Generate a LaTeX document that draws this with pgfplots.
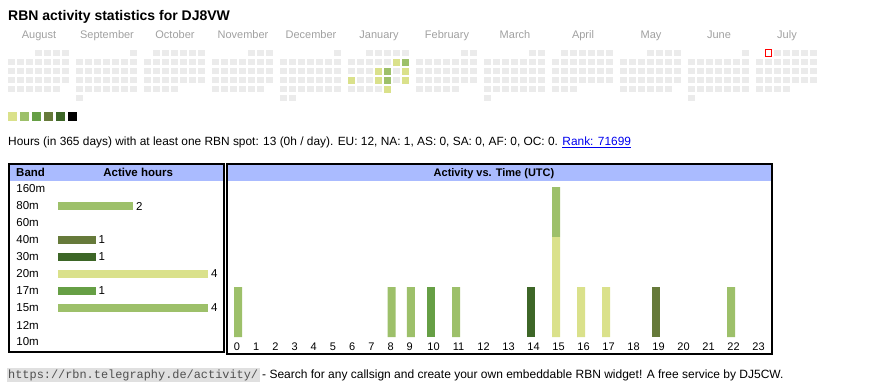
\documentclass[border=0pt]{standalone}
\usepackage{pgfplots}
\pgfplotsset{compat=1.18}
\usepackage{pgfplotstable}
\usepackage{fontspec}
\setmainfont{Liberation Sans}
\setmonofont{Liberation Mono}
\definecolor{lv1}{RGB}{218,225,139}
\definecolor{lv2}{RGB}{157,192,106}
\definecolor{lv3}{RGB}{102,159,69}
\definecolor{lv4}{RGB}{102,122,58}
\definecolor{lv5}{RGB}{61,102,39}
\definecolor{cell}{RGB}{235,235,235}
\definecolor{hdr}{RGB}{170,187,255}
\definecolor{mgray}{RGB}{160,160,160}
\definecolor{link}{RGB}{0,0,238}
\definecolor{urlbg}{RGB}{224,224,224}
\definecolor{urltxt}{RGB}{80,80,80}

% calendar: month (0 = Aug 2024 ... 11 = Jul 2025), week row, first and last weekday column (Mon = 1)
\pgfplotstableread{
m r a b
0 1 4 7
0 2 1 7
0 3 1 7
0 4 1 7
0 5 1 6
1 1 7 7
1 2 1 7
1 3 1 7
1 4 1 7
1 5 1 7
1 6 1 1
2 1 2 7
2 2 1 7
2 3 1 7
2 4 1 7
2 5 1 4
3 1 5 7
3 2 1 7
3 3 1 7
3 4 1 7
3 5 1 6
4 1 7 7
4 2 1 7
4 3 1 7
4 4 1 7
4 5 1 7
4 6 1 2
5 1 3 7
5 2 1 7
5 3 1 7
5 4 1 7
5 5 1 5
6 1 6 7
6 2 1 7
6 3 1 7
6 4 1 7
6 5 1 5
7 1 6 7
7 2 1 7
7 3 1 7
7 4 1 7
7 5 1 7
7 6 1 1
8 1 2 7
8 2 1 7
8 3 1 7
8 4 1 7
8 5 1 3
9 1 4 7
9 2 1 7
9 3 1 7
9 4 1 7
9 5 1 6
10 1 7 7
10 2 1 7
10 3 1 7
10 4 1 7
10 5 1 7
10 6 1 1
11 1 2 7
11 2 1 7
11 3 1 7
11 4 1 7
11 5 1 4
}\calrows

% active days (January 2025) with 1 active hour: month, row, column
\pgfplotstableread{
m r c
5 2 6
5 3 4
5 3 7
5 4 1
5 4 4
5 4 7
5 5 5
}\calhitsA
% active days with 2 active hours
\pgfplotstableread{
m r c
5 2 7
5 3 5
5 4 5
}\calhitsB

% active hours per UTC hour and band
\pgfplotstableread{
hour b80 b40 b30 b20 b17 b15
0 1 0 0 0 0 0
1 0 0 0 0 0 0
2 0 0 0 0 0 0
3 0 0 0 0 0 0
4 0 0 0 0 0 0
5 0 0 0 0 0 0
6 0 0 0 0 0 0
7 0 0 0 0 0 0
8 0 0 0 0 0 1
9 0 0 0 0 0 1
10 0 0 0 0 1 0
11 0 0 0 0 0 1
12 0 0 0 0 0 0
13 0 0 0 0 0 0
14 0 0 1 0 0 0
15 0 0 0 2 0 1
16 0 0 0 1 0 0
17 0 0 0 1 0 0
18 0 0 0 0 0 0
19 0 1 0 0 0 0
20 0 0 0 0 0 0
21 0 0 0 0 0 0
22 1 0 0 0 0 0
23 0 0 0 0 0 0
}\hourdata

\begin{document}
\begin{tikzpicture}
\path[use as bounding box] (0,0) rectangle (870pt,-390pt);

\node[anchor=base west, inner sep=0pt, font=\fontsize{14}{17}\selectfont\bfseries] at (8pt,-20.5pt) {RBN activity statistics for DJ8VW};

% ---------- calendar ----------
\begin{axis}[at={(0pt,-44pt)}, anchor=north west, scale only axis,
  width=870pt, height=63pt, xmin=0, xmax=870, ymin=-7, ymax=0, clip=false,
  axis line style={draw=none}, major tick style={draw=none}, ytick=\empty,
  xtick={39,107,175,243,311,379,447,515,583,651,719,787},
  xticklabels={August,September,October,November,December,January,February,March,April,May,June,July},
  xticklabel pos=upper,
  xticklabel style={anchor=base, inner sep=0pt, yshift=5pt, font=\fontsize{11}{13}\selectfont, text=mgray},
]
\addplot[draw=none, mark=none,
  error bars/.cd, x dir=plus, x explicit, error mark=none,
  error bar style={draw=cell, line width=6.5pt, dash pattern=on 6.5pt off 2.5pt}]
  table[x expr={8+68*\thisrow{m}+9*(\thisrow{a}-1)}, y expr={-\thisrow{r}},
        x error expr={9*(\thisrow{b}-\thisrow{a})+6.5}] {\calrows};
\addplot[only marks, mark=square*, mark size=3.05pt, mark options={draw=lv1, fill=lv1, line width=0.4pt}]
  table[x expr={8+68*\thisrow{m}+9*(\thisrow{c}-1)+3.25}, y expr={-\thisrow{r}}] {\calhitsA};
\addplot[only marks, mark=square*, mark size=3.05pt, mark options={draw=lv2, fill=lv2, line width=0.4pt}]
  table[x expr={8+68*\thisrow{m}+9*(\thisrow{c}-1)+3.25}, y expr={-\thisrow{r}}] {\calhitsB};
\addplot[only marks, mark=square*, mark size=3.2pt, mark options={fill=white, draw=red, line width=0.9pt}]
  table[x expr={8+68*\thisrow{m}+9*(\thisrow{c}-1)+3.25}, y expr={-\thisrow{r}}] {
m r c
11 1 2
};
\end{axis}

% level key
\fill[lv1] (8pt,-111.7pt) rectangle (17pt,-120.7pt);
\fill[lv2] (20pt,-111.7pt) rectangle (29pt,-120.7pt);
\fill[lv3] (32pt,-111.7pt) rectangle (41pt,-120.7pt);
\fill[lv4] (44pt,-111.7pt) rectangle (53pt,-120.7pt);
\fill[lv5] (56pt,-111.7pt) rectangle (65pt,-120.7pt);
\fill[black] (68pt,-111.7pt) rectangle (77pt,-120.7pt);

\node[anchor=base west, inner sep=0pt, font=\fontsize{11.9}{14}\selectfont] at (8pt,-146pt)
  {Hours (in 365 days) with at least one RBN spot: 13 (0h / day). EU: 12, NA: 1, AS: 0, SA: 0, AF: 0, OC: 0. \textcolor{link}{\underline{Rank: 71699}}};

% ---------- boxes ----------
\fill[hdr] (10.3pt,-165.5pt) rectangle (223pt,-180.7pt);
\fill[hdr] (228.2pt,-165.5pt) rectangle (771.1pt,-180.7pt);
\draw[line width=2pt] (9.3pt,-164.5pt) rectangle (224pt,-351.6pt);
\draw[line width=2pt] (227.2pt,-164.5pt) rectangle (772.1pt,-354pt);
\node[anchor=base west, inner sep=0pt, font=\fontsize{11.5}{13}\selectfont\bfseries] at (16pt,-176.7pt) {Band};
\node[anchor=base, inner sep=0pt, font=\fontsize{11.5}{13}\selectfont\bfseries] at (138.2pt,-176.7pt) {Active hours};
\node[anchor=base, inner sep=0pt, font=\fontsize{11}{13}\selectfont\bfseries] at (494pt,-176.7pt) {Activity vs. Time (UTC)};

% ---------- band table ----------
\begin{axis}[at={(58pt,-180.5pt)}, anchor=north west, scale only axis,
  width=165pt, height=170pt, xmin=0, xmax=4.4, ymin=-0.5, ymax=9.5, clip=false,
  xbar, bar width=7.3pt, bar shift=0pt,
  /pgf/number format/assume math mode=true,
  axis line style={draw=none}, major tick style={draw=none}, xtick=\empty,
  ytick={0,1,2,3,4,5,6,7,8,9},
  yticklabels={10m,12m,15m,17m,20m,30m,40m,60m,80m,160m},
  yticklabel style={anchor=west, inner sep=0pt, xshift=-37.5pt, font=\fontsize{11.5}{13}\selectfont},
  point meta=x, nodes near coords,
  nodes near coords style={anchor=west, inner sep=0pt, xshift=3pt, font=\fontsize{11.5}{13}\selectfont},
]
\addplot[fill=lv2, draw=none] coordinates {(2,8)};
\addplot[fill=lv4, draw=none] coordinates {(1,6)};
\addplot[fill=lv5, draw=none] coordinates {(1,5)};
\addplot[fill=lv1, draw=none] coordinates {(4,4)};
\addplot[fill=lv3, draw=none] coordinates {(1,3)};
\addplot[fill=lv2, draw=none] coordinates {(4,2)};
\end{axis}

% ---------- activity vs time ----------
\begin{axis}[at={(227pt,-337pt)}, anchor=south west, scale only axis,
  width=545pt, height=150pt, xmin=227, xmax=772, ymin=0, ymax=3, clip=false,
  ybar stacked, bar width=8pt,
  axis line style={draw=none}, major tick style={draw=none}, ytick=\empty,
  xtick={237,256.2,275.4,294.6,313.8,333,352.2,371.4,390.6,409.8,433.5,458.5,483.5,508.5,533.5,558.5,583.5,608.5,633.5,658.5,683.5,708.5,733.5,758.5},
  xticklabels={0,1,2,3,4,5,6,7,8,9,10,11,12,13,14,15,16,17,18,19,20,21,22,23},
  xticklabel style={anchor=base, inner sep=0pt, yshift=-13pt, font=\fontsize{11}{13}\selectfont},
]
\addplot[fill=lv2, draw=none] table[x expr={\thisrow{hour}<10 ? 238+19.2*\thisrow{hour} : 431+25*(\thisrow{hour}-10)}, y=b80] {\hourdata};
\addplot[fill=lv4, draw=none] table[x expr={\thisrow{hour}<10 ? 238+19.2*\thisrow{hour} : 431+25*(\thisrow{hour}-10)}, y=b40] {\hourdata};
\addplot[fill=lv5, draw=none] table[x expr={\thisrow{hour}<10 ? 238+19.2*\thisrow{hour} : 431+25*(\thisrow{hour}-10)}, y=b30] {\hourdata};
\addplot[fill=lv1, draw=none] table[x expr={\thisrow{hour}<10 ? 238+19.2*\thisrow{hour} : 431+25*(\thisrow{hour}-10)}, y=b20] {\hourdata};
\addplot[fill=lv3, draw=none] table[x expr={\thisrow{hour}<10 ? 238+19.2*\thisrow{hour} : 431+25*(\thisrow{hour}-10)}, y=b17] {\hourdata};
\addplot[fill=lv2, draw=none] table[x expr={\thisrow{hour}<10 ? 238+19.2*\thisrow{hour} : 431+25*(\thisrow{hour}-10)}, y=b15] {\hourdata};
\end{axis}

% ---------- footer ----------
\fill[urlbg] (7pt,-367.5pt) rectangle (260pt,-381.5pt);
\node[anchor=base west, inner sep=0pt, font=\fontsize{11.9}{14}\ttfamily, text=urltxt] at (8pt,-378pt) {https://rbn.telegraphy.de/activity/};
\node[anchor=base west, inner sep=0pt, font=\fontsize{12}{14}\selectfont] at (262pt,-378pt) {- Search for any callsign and create your own embeddable RBN widget! A free service by DJ5CW.};
\end{tikzpicture}
\end{document}
